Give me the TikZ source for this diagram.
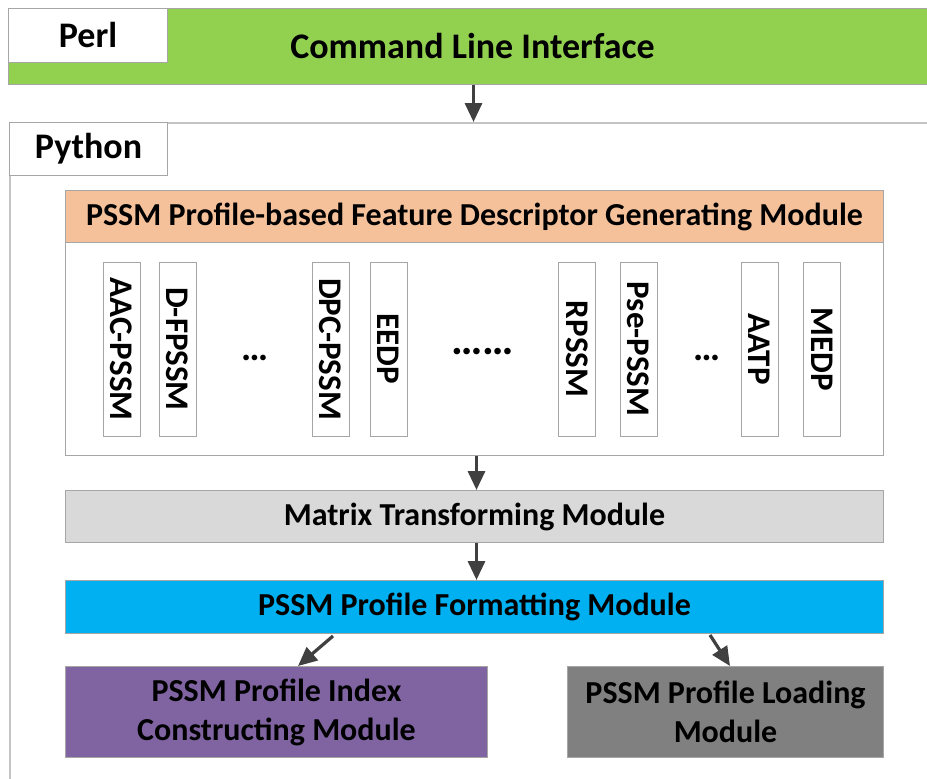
\documentclass[tikz,border=0pt]{standalone}
\usepackage{fontspec}
\setmainfont{Carlito}
\usetikzlibrary{arrows.meta}
\definecolor{cligreen}{HTML}{92D050}
\definecolor{hdrorange}{HTML}{F4C19B}
\definecolor{matgray}{HTML}{D9D9D9}
\definecolor{pyedge}{HTML}{C4C4C4}
\definecolor{fmtcyan}{HTML}{00B0F0}
\definecolor{idxpurple}{HTML}{8064A2}
\definecolor{ldgray}{HTML}{808080}
\definecolor{edge}{HTML}{A6A6A6}
\definecolor{arrowc}{HTML}{404040}
\begin{document}
\begin{tikzpicture}[x=1pt,y=-1pt,
  box/.style={draw=edge, line width=1pt, anchor=north west, inner sep=0pt, align=center, font=\bfseries\fontsize{32}{39}\selectfont},
  bigtxt/.style={font=\bfseries\fontsize{36}{42}\selectfont},
  vbox/.style={draw=edge, line width=1pt, fill=white, rotate=-90, minimum width=174pt, minimum height=37pt, inner sep=0pt, font=\bfseries\fontsize{33}{39}\selectfont},
  dots/.style={anchor=base, inner sep=0pt, font=\bfseries\fontsize{38}{39}\selectfont},
  arr/.style={draw=arrowc, line width=3.2pt, -{Triangle[width=17pt,length=19pt]}}
]
\useasboundingbox (0,0) rectangle (927,779);
\fill[white] (0,0) rectangle (927,779);
\begin{scope}
\clip (0,0) rectangle (927,779);
% Perl layer
\node[box, fill=cligreen, minimum width=928pt, minimum height=76pt, bigtxt] (cli) at (8,8) {Command Line Interface};
\node[box, fill=white, minimum width=159pt, minimum height=54pt, bigtxt] (perl) at (8,8) {Perl};
% Python layer
\node[box, draw=pyedge, line width=2pt, fill=white, minimum width=930pt, minimum height=680pt] (py) at (9,122) {};
\node[box, fill=white, minimum width=158pt, minimum height=53pt, bigtxt] (pylbl) at (9,122) {Python};
\end{scope}
% descriptor module
\node[box, fill=hdrorange, minimum width=818pt, minimum height=52pt] (hdr) at (65,190) {PSSM Profile-based Feature Descriptor Generating Module};
\node[box, fill=white, minimum width=818pt, minimum height=213pt] (mod) at (65,242) {};
\node[vbox] (aac) at (121.5,349) {AAC-PSSM};
\node[vbox] (dfp) at (177.5,349) {D-FPSSM};
\node[dots] (d1) at (255,360) {…};
\node[vbox] (dpc) at (330.5,349) {DPC-PSSM};
\node[vbox] (eedp) at (388.5,349) {EEDP};
\node[dots, font=\bfseries\fontsize{44}{44}\selectfont] (d2) at (483,354) {……};
\node[vbox] (rpssm) at (577,349) {RPSSM};
\node[vbox] (pse) at (638.5,349) {Pse-PSSM};
\node[dots] (d3) at (707,360) {…};
\node[vbox] (aatp) at (759.5,349) {AATP};
\node[vbox] (medp) at (822,349) {MEDP};
% other modules
\node[box, fill=matgray, minimum width=818pt, minimum height=52pt] (mat) at (65,490) {Matrix Transforming Module};
\node[box, fill=fmtcyan, minimum width=818pt, minimum height=53pt] (fmt) at (65,580) {PSSM Profile Formatting Module};
\node[box, fill=idxpurple, minimum width=422pt, minimum height=91pt] (idx) at (65,666) {PSSM Profile Index\\Constructing Module};
\node[box, fill=ldgray, minimum width=316pt, minimum height=91pt] (ld) at (567,666) {PSSM Profile Loading\\Module};
% arrows
\draw[arr] ([xshift=1pt]cli.south) -- ([xshift=1pt]cli.south |- py.north);
\draw[arr] ([xshift=2pt]mod.south) -- ([xshift=2pt]mat.north);
\draw[arr] ([xshift=2pt]mat.south) -- ([xshift=2pt]fmt.north);
\draw[arr] ([xshift=268pt,yshift=-2pt]fmt.south west) -- ([xshift=233pt]idx.north west);
\draw[arr] ([xshift=645pt,yshift=-1pt]fmt.south west) -- ([xshift=163pt]ld.north west);
\end{tikzpicture}
\end{document}
